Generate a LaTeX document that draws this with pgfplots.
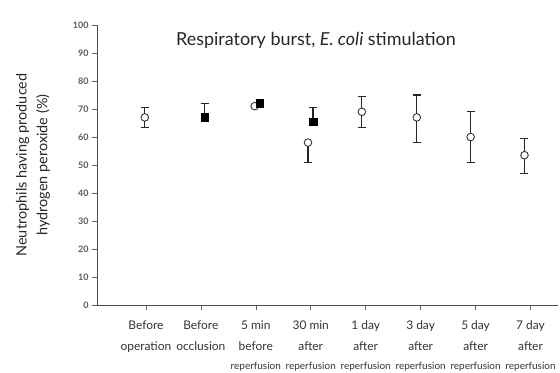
\documentclass[border=0pt]{standalone}
\usepackage{pgfplots}
\pgfplotsset{compat=1.18}
\usepackage{pgfplotstable}
\usepackage{fontspec}
\setmainfont{Lato}
\newcommand{\rp}{{\fontsize{10}{12}\selectfont reperfusion}}
\pgfplotstableread{
x y ep em
-0.02 67 3.5 3.5
1.98 71 0 0
2.95 58 0 7
3.93 69 5.5 5.5
4.93 67 8 9
5.91 60 9 9
6.89 53.5 6 6.5
}\opendata
\pgfplotstableread{
x y ep em
1.07 67 5 0
2.07 72 0 0
3.04 65.4 5 0
}\filleddata
\begin{document}
\begin{tikzpicture}
\begin{axis}[
  scale only axis,
  width=461bp, height=280bp,
  xmin=-0.89, xmax=7.5,
  ymin=0, ymax=100,
  axis lines=left,
  axis line style={draw=black!70, line width=0.8pt, -},
  ytick={0,10,...,100},
  xtick={0,...,7},
  tick style={draw=black!60, line width=0.5pt},
  tick align=outside,
  major tick length=5bp,
  yticklabel style={font=\small\bfseries, text=black!65},
  /pgf/number format/assume math mode=true,
  xticklabels={
    {Before\\operation},
    {Before\\occlusion},
    {5 min\\before\\[-2pt]\rp},
    {30 min\\after\\[-2pt]\rp},
    {1 day\\after\\[-2pt]\rp},
    {3 day\\after\\[-2pt]\rp},
    {5 day\\after\\[-2pt]\rp},
    {7 day\\after\\[-2pt]\rp}},
  xticklabel style={align=center, font=\fontsize{12}{21}\selectfont, text=black!80, yshift=-7bp},
  clip=false,
]
\coordinate (O) at (rel axis cs:0,0);
\addplot[only marks, mark=*, mark size=3.8bp, mark options={fill=white, draw=black!80, line width=0.9pt},
  error bars/.cd, y dir=both, y explicit, error bar style={black!85, line width=1.2pt},
  error mark options={rotate=90, mark size=4bp, line width=1.2pt, black!85}]
  table[x=x, y=y, y error plus=ep, y error minus=em]{\opendata};
\addplot[only marks, mark=square*, mark size=3.8bp, mark options={fill=black, draw=black},
  error bars/.cd, y dir=both, y explicit, error bar style={black!85, line width=1.2pt},
  error mark options={rotate=90, mark size=4bp, line width=1.2pt, black!85}]
  table[x=x, y=y, y error plus=ep, y error minus=em]{\filleddata};
\node[font=\fontsize{18}{20}\selectfont, text=black!85] at (rel axis cs:0.475,0.946) {Respiratory burst, \textit{E. coli} stimulation};
\node[rotate=90, align=center, font=\fontsize{14.5}{21}\selectfont, text=black!85] at ([xshift=-64bp]rel axis cs:0,0.5) {Neutrophils having produced\\hydrogen peroxide (\%)};
\end{axis}
\pgfresetboundingbox
\path (O) ++(-97bp,-68bp) rectangle ++(560bp,373bp);
\end{tikzpicture}
\end{document}
